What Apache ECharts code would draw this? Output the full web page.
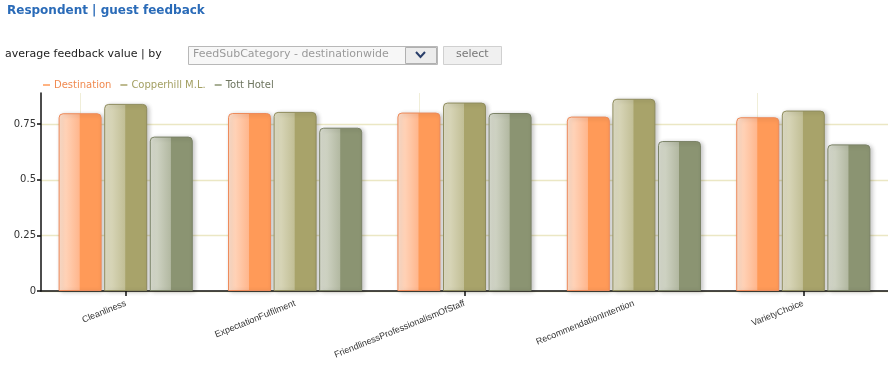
<!DOCTYPE html>
<html>
<head>
<meta charset="utf-8">
<script src="https://cdn.jsdelivr.net/npm/echarts@6/dist/echarts.min.js"></script>
<style>
html,body{margin:0;padding:0;background:#fff;}
#chart{width:888px;height:365px;}
</style>
</head>
<body>
<div id="chart"></div>
<script>
const categories = ['Cleanliness','ExpectationFulfilment','FriendlinessProfessionalismOfStaff','RecommendationIntention','VarietyChoice'];
const seriesNames = ['Destination','Copperhill M.L.','Tott Hotel'];
const destination = [0.799, 0.800, 0.802, 0.784, 0.781];
const copperhill = [0.841, 0.805, 0.847, 0.864, 0.811];
const tott = [0.694, 0.734, 0.800, 0.674, 0.659];
const yTicks = [0, 0.25, 0.5, 0.75];

const palettes = [
  {pale:'#ffe0cc', mid:'#ffb78e', solid:'#ff9a58', border:'#ee8a5a', text:'#f08a50'},
  {pale:'#e2e0c8', mid:'#c2bf96', solid:'#a8a36a', border:'#8f8c5e', text:'#a39f62'},
  {pale:'#dcdfd3', mid:'#b3b9a2', solid:'#8b9472', border:'#7a8266', text:'#6e7560'}
];
function grad(p){
  return new echarts.graphic.LinearGradient(0,0,1,0,[
    {offset:0,color:p.pale},{offset:0.48,color:p.mid},{offset:0.5,color:p.solid},{offset:1,color:p.solid}
  ]);
}
const values = [destination, copperhill, tott];

const chart = echarts.init(document.getElementById('chart'), null, {renderer:'canvas'});
const font = 'DejaVu Sans';

const series = values.map((v,i)=>({
  name: seriesNames[i],
  type:'bar',
  data: v,
  barWidth: 43,
  barGap: '6%',
  itemStyle:{
    color: grad(palettes[i]),
    borderColor: palettes[i].border,
    borderWidth: 1,
    borderRadius:[4,4,0,0],
    shadowColor:'rgba(0,0,0,0.22)',
    shadowBlur:4,
    shadowOffsetX:2,
    shadowOffsetY:1
  },
  emphasis:{disabled:true},
  z:3
}));
series[0].markLine = {
  silent:true, symbol:['none','none'], label:{show:false}, z:1,
  lineStyle:{color:'#f0eed8', type:'solid', width:1},
  data: [categories[0],categories[2],categories[4]].map(c=>({xAxis:c}))
};

chart.setOption({
  animation:false,
  backgroundColor:'#fff',
  grid:{left:41,right:0,top:93,bottom:74,containLabel:false},
  legend:{
    left:38, top:75, itemGap:9, itemWidth:7, itemHeight:1.5, icon:'rect',
    selectedMode:false,
    data: seriesNames.map((n,i)=>({name:n, itemStyle:{color:palettes[i].solid, borderWidth:0, shadowBlur:0}, textStyle:{color:palettes[i].text}})),
    textStyle:{fontFamily:font, fontSize:10, padding:[0,0,0,-1]}
  },
  xAxis:{
    type:'category', data:categories,
    axisLine:{lineStyle:{color:'#111',width:1.5}},
    axisTick:{show:true, alignWithLabel:true, interval:1, length:5, inside:false, lineStyle:{color:'#111',width:1.5}},
    axisLabel:{interval:0, rotate:22, margin:12, fontFamily:'Liberation Sans', fontSize:9, color:'#333'},
    splitLine:{show:false}
  },
  yAxis:{
    type:'value', min:0, max:0.89, interval:0.25,
    axisLine:{show:true, lineStyle:{color:'#111',width:1.5}},
    axisTick:{show:true, length:4, lineStyle:{color:'#111',width:1.5}},
    axisLabel:{showMaxLabel:false, fontFamily:font, fontSize:10, color:'#333', margin:5,
      formatter: v => yTicks.includes(v) ? String(v) : ''},
    splitLine:{show:true, showMaxLine:false, lineStyle:{color:'#ebe7c4', width:1.3}}
  },
  graphic:[
    {type:'text', left:7, top:5, style:{text:'Respondent | guest feedback', font:'bold 12px "DejaVu Sans"', fill:'#2a6bb8'}},
    {type:'text', left:5, top:49, style:{text:'average feedback value | by', font:'11px "DejaVu Sans"', fill:'#222'}},
    {type:'rect', shape:{x:188.5,y:46.5,width:249,height:18}, style:{fill:'#f7f7f7', stroke:'#b8b8b8', lineWidth:1}},
    {type:'text', left:193, top:49, style:{text:'FeedSubCategory - destinationwide', font:'11px "DejaVu Sans"', fill:'#9a9a9a'}},
    {type:'rect', shape:{x:405.5,y:47.5,width:31,height:16}, style:{fill:'#ececec', stroke:'#b0b0b0', lineWidth:1}},
    {type:'polyline', shape:{points:[[416,52],[420.5,57],[425,52]]}, style:{stroke:'#2a3f6a', lineWidth:2, fill:null}},
    {type:'rect', shape:{x:443.5,y:46.5,width:58,height:18}, style:{fill:'#f0f0f0', stroke:'#d0d0d0', lineWidth:1}},
    {type:'text', left:456, top:49, style:{text:'select', font:'11px "DejaVu Sans"', fill:'#777'}}
  ],
  series: series
});
</script>
</body>
</html>
